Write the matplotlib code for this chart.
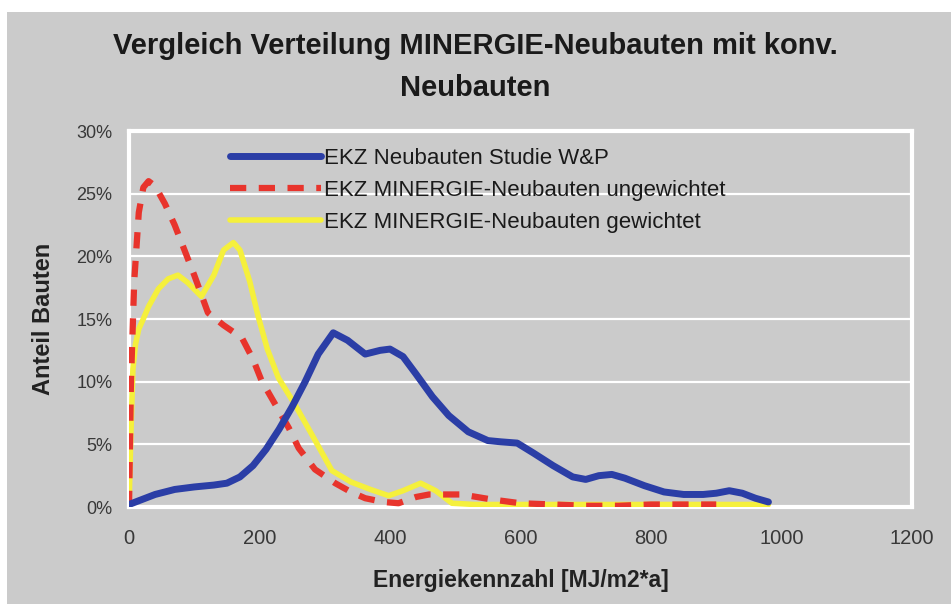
import matplotlib.pyplot as plt
from matplotlib.patches import Rectangle
from matplotlib.ticker import FuncFormatter

plt.rcParams['font.family'] = ['Liberation Sans', 'DejaVu Sans']

# EKZ Neubauten Studie W&P
blue_x = [0, 20, 40, 70, 100, 130, 150, 170, 190, 210, 230, 250, 270, 290, 313, 335, 362, 385, 400,
          420, 440, 465, 490, 520, 550, 570, 595, 620, 650, 680, 700, 720, 740, 760, 790, 820, 850,
          880, 900, 920, 940, 960, 980]
blue_y = [0.2, 0.6, 1.0, 1.4, 1.6, 1.75, 1.9, 2.4, 3.3, 4.6, 6.2, 8.0, 10.0, 12.2, 13.9, 13.3, 12.2,
          12.5, 12.6, 12.0, 10.6, 8.8, 7.3, 6.0, 5.3, 5.2, 5.1, 4.3, 3.3, 2.4, 2.2, 2.5, 2.6, 2.3, 1.7,
          1.2, 1.0, 1.0, 1.1, 1.3, 1.1, 0.7, 0.4]

# EKZ MINERGIE-Neubauten ungewichtet
red_x = [0, 3, 8, 15, 22, 30, 40, 55, 70, 85, 100, 121, 145, 173, 190, 203, 224, 245, 260, 285, 316,
         340, 362, 390, 413, 440, 460, 490, 510, 556, 600, 650, 700, 750, 800, 850, 900]
red_y = [0, 10, 18, 23.5, 25.5, 26, 25.6, 24.2, 22.5, 20.5, 18.5, 15.5, 14.5, 13.5, 11.8, 10.1, 8.2,
         6.3, 4.7, 3.0, 1.9, 1.2, 0.7, 0.4, 0.3, 0.8, 1.0, 1.0, 1.0, 0.6, 0.3, 0.2, 0.1, 0.1, 0.2,
         0.2, 0.2]

# EKZ MINERGIE-Neubauten gewichtet
yel_x = [0, 3, 6, 10, 15, 21, 30, 45, 60, 75, 90, 111, 130, 145, 160, 170, 185, 198, 212, 229, 254,
         280, 311, 340, 370, 398, 420, 447, 470, 495, 530, 600, 700, 800, 900, 980]
yel_y = [0, 6, 11, 13, 14.2, 14.9, 16.0, 17.4, 18.2, 18.5, 17.9, 16.8, 18.5, 20.5, 21.1, 20.5, 18.0,
         15.2, 12.6, 10.3, 8.2, 5.8, 2.9, 2.0, 1.4, 0.9, 1.3, 1.9, 1.3, 0.3, 0.2, 0.2, 0.2, 0.2, 0.2,
         0.2]

labels = ['EKZ Neubauten Studie W&P', 'EKZ MINERGIE-Neubauten ungewichtet',
          'EKZ MINERGIE-Neubauten gewichtet']

bg = '#cbcbcb'
fig = plt.figure(figsize=(9.51, 6.04), dpi=100)
fig.patch.set_facecolor('white')
fig.patches.append(Rectangle((7 / 951, 0), 1, 1 - 12 / 604, transform=fig.transFigure,
                             facecolor=bg, edgecolor='none', zorder=-10))

ax = fig.add_axes([129 / 951, 1 - 507 / 604, (912 - 129) / 951, (507 - 131) / 604])
ax.set_facecolor(bg)

ax.plot(yel_x, yel_y, color='#f5f03c', lw=4, solid_joinstyle='round', solid_capstyle='round',
        label=labels[2], zorder=3)
ax.plot(red_x, red_y, color='#e8342c', lw=4.5, dashes=(2.6, 2.0), dash_capstyle='butt',
        label=labels[1], zorder=4)
ax.plot(blue_x, blue_y, color='#2b3ea6', lw=5, solid_joinstyle='round', solid_capstyle='round',
        label=labels[0], zorder=5)

ax.set_xlim(0, 1200)
ax.set_ylim(0, 30)
ax.set_xticks(range(0, 1201, 200))
ax.set_yticks(range(0, 31, 5))
ax.yaxis.set_major_formatter(FuncFormatter(lambda v, p: f'{int(v)}%'))
ax.grid(axis='y', color='white', lw=1.6)
ax.set_axisbelow(True)
for s in ax.spines.values():
    s.set_color('white')
    s.set_linewidth(3)
ax.tick_params(axis='both', length=0, colors='#383838')
ax.tick_params(axis='y', pad=12, labelsize=13)
ax.tick_params(axis='x', pad=16, labelsize=14.5)

ax.set_xlabel('Energiekennzahl [MJ/m2*a]', fontsize=16.5, fontweight='bold', color='#222222',
              labelpad=15)
ax.set_ylabel('Anteil Bauten', fontsize=17, fontweight='bold', color='#222222', labelpad=15)

h, l = ax.get_legend_handles_labels()
order = [2, 1, 0]
ax.legend([h[i] for i in order], [l[i] for i in order], loc='upper left', frameon=False,
          bbox_to_anchor=(230 / 951, 1 - 148 / 604), bbox_transform=fig.transFigure,
          fontsize=16, handlelength=4.1, handletextpad=0.15, labelspacing=0.5,
          borderpad=0, borderaxespad=0, labelcolor='#1a1a1a')

fig.text(0.5, 1 - 67 / 604, 'Vergleich Verteilung MINERGIE-Neubauten mit konv.\nNeubauten',
         ha='center', va='center', fontsize=21, fontweight='bold', color='#1a1a1a',
         linespacing=1.6)

fig.savefig('out.png', dpi=100, facecolor=fig.get_facecolor())
